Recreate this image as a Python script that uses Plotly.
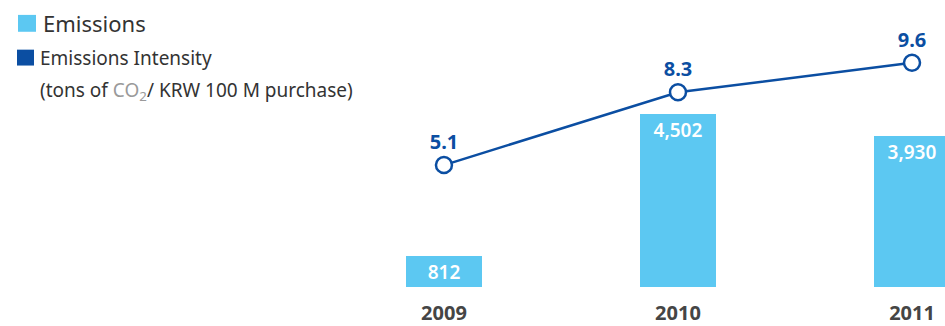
import plotly.graph_objects as go

# dados
anos = ["2009", "2010", "2011"]
emissoes = [812, 4502, 3930]
intensidade = [5.1, 8.3, 9.6]
rotulos_emissoes = ["812", "4,502", "3,930"]
rotulos_intensidade = ["5.1", "8.3", "9.6"]

COR_BARRA = "#5cc8f2"
COR_LINHA = "#0b4ea2"
FONTE = "Noto Sans"

fig = go.Figure()

fig.add_trace(go.Bar(
    x=anos, y=emissoes, width=0.325,
    marker=dict(color=COR_BARRA, line=dict(width=0)),
    text=rotulos_emissoes, textposition="inside", insidetextanchor="end",
    textangle=0, constraintext="none",
    insidetextfont=dict(family=FONTE, size=19, color="white", weight=600),
    cliponaxis=True, showlegend=False, hoverinfo="skip",
))

fig.add_trace(go.Scatter(
    x=anos, y=intensidade, yaxis="y2", mode="lines+markers+text",
    line=dict(color=COR_LINHA, width=2.5),
    marker=dict(symbol="circle", size=16, color="white", line=dict(color=COR_LINHA, width=2.5)),
    text=rotulos_intensidade, textposition="top center",
    textfont=dict(family=FONTE, size=20, color=COR_LINHA, weight=700),
    cliponaxis=False, showlegend=False, hoverinfo="skip",
))

fig.update_layout(
    width=945, height=326,
    margin=dict(l=0, r=0, t=0, b=37),
    paper_bgcolor="white", plot_bgcolor="white",
    font=dict(family=FONTE),
    bargap=0,
    xaxis=dict(
        type="category", range=[-1.897, 2.141],
        showgrid=False, zeroline=False, showline=False, ticks="",
        ticklabelstandoff=12,
        tickfont=dict(family=FONTE, size=20, color="#454545", weight=700),
    ),
    yaxis=dict(range=[0, 7470], visible=False, showgrid=False),
    yaxis2=dict(range=[-0.262, 12.36], overlaying="y", visible=False, showgrid=False),
)

# legenda manual
fig.add_shape(type="rect", xref="paper", yref="paper",
              x0=18 / 945, x1=36 / 945, y0=1 - 32 / 289, y1=1 - 15 / 289,
              fillcolor=COR_BARRA, line=dict(width=0))
fig.add_shape(type="rect", xref="paper", yref="paper",
              x0=17 / 945, x1=34 / 945, y0=1 - 66 / 289, y1=1 - 50 / 289,
              fillcolor=COR_LINHA, line=dict(width=0))

fig.add_annotation(x=41 / 945, y=1 - 23 / 289, xref="paper", yref="paper",
                   xanchor="left", yanchor="middle", showarrow=False,
                   text="Emissions", font=dict(family=FONTE, size=22, color="#333333"))
fig.add_annotation(x=38 / 945, y=1 - 58 / 289, xref="paper", yref="paper",
                   xanchor="left", yanchor="middle", showarrow=False,
                   text="Emissions Intensity", font=dict(family=FONTE, size=19, color="#333333"))
fig.add_annotation(x=38 / 945, y=1 - 92 / 289, xref="paper", yref="paper",
                   xanchor="left", yanchor="middle", showarrow=False,
                   text="(tons of <span style='color:#9a9a9a'>CO<sub>2</sub></span>/ KRW 100 M purchase)",
                   font=dict(family=FONTE, size=19, color="#333333"))

fig.write_html("out.html", config={"displayModeBar": False},
               post_script="document.body.style.margin='0';")
